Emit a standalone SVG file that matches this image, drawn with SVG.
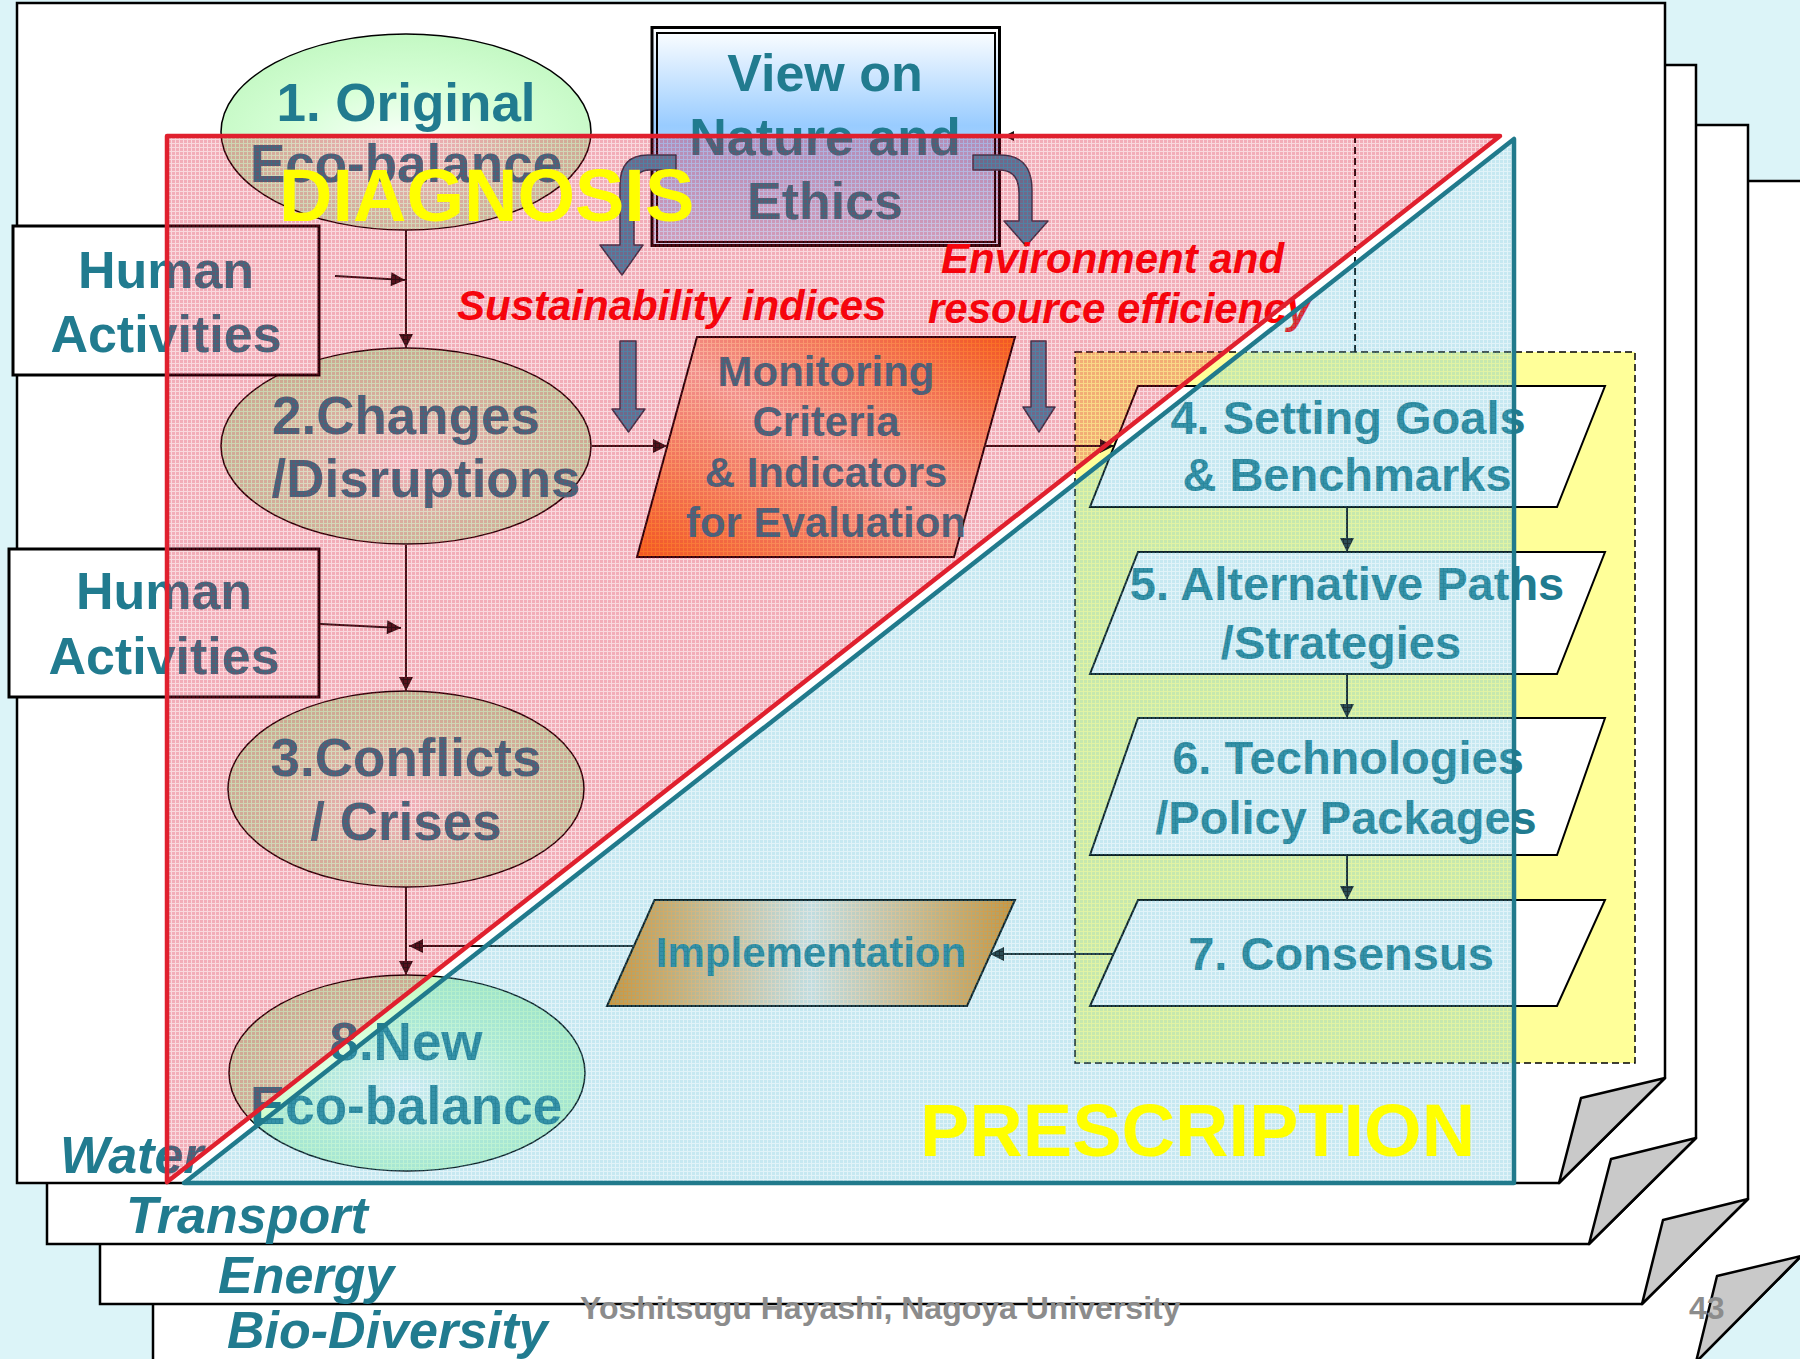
<svg xmlns="http://www.w3.org/2000/svg" width="1800" height="1359" viewBox="0 0 1800 1359">
<style>
.page{fill:#fff;stroke:#000;stroke-width:2.5}
.flap{fill:#c9c9c9;stroke:#000;stroke-width:2.5;stroke-linejoin:round}
.t{font-family:"Liberation Sans",Arial,sans-serif;font-weight:bold;fill:#217B8F;text-anchor:middle}
.big{font-size:53px}
.bx{font-size:47px}
.red{font-family:"Liberation Sans",Arial,sans-serif;font-weight:bold;font-style:italic;fill:#ff0000;font-size:42px}
.cat{font-family:"Liberation Sans",Arial,sans-serif;font-weight:bold;font-style:italic;fill:#217B8F;font-size:52px}
.foot{font-family:"Liberation Sans",Arial,sans-serif;font-weight:bold;fill:#8c8c8c;font-size:32px}
.lbl{font-family:"Liberation Sans",Arial,sans-serif;font-weight:bold;fill:#ffff00;font-size:74px}
.ln{stroke:#111;stroke-width:2;fill:none}
.blk{fill:#3896b8;stroke:#1c3c50;stroke-width:1.5;stroke-linejoin:round}
.ell{stroke:#000;stroke-width:1.5;fill:url(#gEll)}
.para{fill:#fff;stroke:#000;stroke-width:2}
.ha{fill:#fff;stroke:#000;stroke-width:3}
</style>
<defs>
<radialGradient id="gEll" cx="50%" cy="58%" r="60%">
<stop offset="0" stop-color="#ffffff"/>
<stop offset="0.55" stop-color="#d6ffd6"/>
<stop offset="1" stop-color="#c2f8c2"/>
</radialGradient>
<linearGradient id="gView" x1="0" y1="0" x2="0" y2="1">
<stop offset="0" stop-color="#ffffff"/>
<stop offset="0.45" stop-color="#99ccff"/>
<stop offset="1" stop-color="#cfe4ff"/>
</linearGradient>
<linearGradient id="gMon" x1="0" y1="1" x2="1" y2="0">
<stop offset="0" stop-color="#ff7a18"/>
<stop offset="0.5" stop-color="#ffd3bd"/>
<stop offset="1" stop-color="#ff7a18"/>
</linearGradient>
<linearGradient id="gImp" x1="0" y1="0" x2="1" y2="0">
<stop offset="0" stop-color="#e88a14"/>
<stop offset="0.5" stop-color="#f6eee6"/>
<stop offset="1" stop-color="#e88a14"/>
</linearGradient>
<pattern id="pPink" width="4" height="4" patternUnits="userSpaceOnUse">
<rect width="4" height="4" fill="#dc1432" fill-opacity="0.16"/>
<rect width="3" height="3" fill="#dc1432" fill-opacity="0.22"/>
</pattern>
<pattern id="pBlue" width="4" height="4" patternUnits="userSpaceOnUse">
<rect width="4" height="4" fill="#5abed7" fill-opacity="0.18"/>
<rect width="3" height="3" fill="#5abed7" fill-opacity="0.2"/>
</pattern>
<marker id="ah" viewBox="0 0 10 10" refX="10" refY="5" markerWidth="15" markerHeight="14" markerUnits="userSpaceOnUse" orient="auto">
<path d="M0,0 L10,5 L0,10 Z" fill="#111"/>
</marker>
<marker id="ahs" viewBox="0 0 10 10" refX="10" refY="5" markerWidth="10" markerHeight="12" markerUnits="userSpaceOnUse" orient="auto">
<path d="M0,0 L10,5 L0,10 Z" fill="#111"/>
</marker>
</defs>

<rect width="1800" height="1359" fill="#dcf4f8"/>

<g id="pages">
<path class="page" d="M153,181 H1801.5 V1256 L1696,1362 H153 Z"/>
<path class="flap" d="M1717,1276 L1801,1256 L1696,1362 Z"/>
<path class="page" d="M100,125 H1748 V1199 L1642,1304 H100 Z"/>
<path class="flap" d="M1663,1220 L1748,1199 L1642,1304 Z"/>
<path class="page" d="M47,65 H1696 V1138 L1589,1244 H47 Z"/>
<path class="flap" d="M1611,1159 L1696,1138 L1589,1244 Z"/>
<path class="page" d="M17,3 H1665 V1078 L1559,1183 H17 Z"/>
<path class="flap" d="M1581,1098 L1665,1078 L1559,1183 Z"/>
</g>

<g id="categories">
<text class="cat" x="60" y="1173">Water</text>
<text class="cat" x="126" y="1233">Transport</text>
<text class="cat" x="218" y="1293">Energy</text>
<text class="cat" x="227" y="1348">Bio-Diversity</text>
</g>

<g id="footer">
<text class="foot" x="580" y="1319">Yoshitsugu Hayashi, Nagoya University</text>
<text class="foot" x="1689" y="1319">43</text>
</g>

<g id="prescription-group">
<rect x="1075" y="352" width="560" height="711" fill="#ffff99" stroke="#000" stroke-width="1.5" stroke-dasharray="7,4"/>
</g>

<g id="n1">
<ellipse class="ell" cx="406" cy="132" rx="185" ry="98"/>
<text class="t big" x="406" y="121">1. Original</text>
<text class="t big" x="406" y="182">Eco-balance</text>
</g>
<g id="n2">
<ellipse class="ell" cx="406" cy="446" rx="185" ry="98"/>
<text class="t big" x="406" y="434">2.Changes</text>
<text class="t big" x="426" y="497">/Disruptions</text>
</g>
<g id="n3">
<ellipse class="ell" cx="406" cy="789" rx="178" ry="98"/>
<text class="t big" x="406" y="776">3.Conflicts</text>
<text class="t big" x="406" y="840">/ Crises</text>
</g>
<g id="n8">
<ellipse class="ell" cx="407" cy="1073" rx="178" ry="98"/>
<text class="t big" x="406" y="1060">8.New</text>
<text class="t big" x="406" y="1124">Eco-balance</text>
</g>
<g id="human1">
<rect class="ha" x="13" y="226" width="306" height="149"/>
<text class="t" style="font-size:52px" x="166" y="288">Human</text>
<text class="t" style="font-size:52px" x="166" y="352">Activities</text>
</g>
<g id="human2">
<rect class="ha" x="9" y="549" width="310" height="148"/>
<text class="t" style="font-size:52px" x="164" y="609">Human</text>
<text class="t" style="font-size:52px" x="164" y="674">Activities</text>
</g>
<g id="view">
<rect x="652" y="27.5" width="347.5" height="218" fill="url(#gView)" stroke="#000" stroke-width="3"/>
<rect x="657" y="33" width="338" height="209" fill="none" stroke="#000" stroke-width="2"/>
<text class="t" style="font-size:52px" x="825" y="91">View on</text>
<text class="t" style="font-size:52px" x="825" y="155">Nature and</text>
<text class="t" style="font-size:52px" x="825" y="219">Ethics</text>
</g>
<g id="monitoring">
<path d="M697,337 H1015 L954,557 H637 Z" fill="url(#gMon)" stroke="#000" stroke-width="2"/>
<text class="t" style="font-size:42px" x="826" y="386">Monitoring</text>
<text class="t" style="font-size:42px" x="826" y="436">Criteria</text>
<text class="t" style="font-size:42px" x="826" y="487">&amp; Indicators</text>
<text class="t" style="font-size:42px" x="826" y="537">for Evaluation</text>
</g>
<g id="n4">
<path class="para" d="M1138,386 H1605 L1557,507 H1090 Z"/>
<text class="t bx" x="1348" y="434">4. Setting Goals</text>
<text class="t bx" x="1347" y="491">&amp; Benchmarks</text>
</g>
<g id="n5">
<path class="para" d="M1138,552 H1605 L1557,674 H1090 Z"/>
<text class="t bx" x="1347" y="600">5. Alternative Paths</text>
<text class="t bx" x="1341" y="659">/Strategies</text>
</g>
<g id="n6">
<path class="para" d="M1138,718 H1605 L1557,855 H1090 Z"/>
<text class="t bx" x="1348" y="774">6. Technologies</text>
<text class="t bx" x="1346" y="834">/Policy Packages</text>
</g>
<g id="n7">
<path class="para" d="M1138,900 H1605 L1557,1006 H1090 Z"/>
<text class="t bx" x="1341" y="970">7. Consensus</text>
</g>
<g id="implementation">
<path d="M654.5,900 H1015 L967,1006 H607 Z" fill="url(#gImp)" stroke="#000" stroke-width="2"/>
<text class="t" style="font-size:42px" x="811" y="967">Implementation</text>
</g>

<g id="connectors">
<line class="ln" x1="406" y1="230" x2="406" y2="348" marker-end="url(#ah)"/>
<line class="ln" x1="406" y1="545" x2="406" y2="691" marker-end="url(#ah)"/>
<line class="ln" x1="406" y1="887" x2="406" y2="975" marker-end="url(#ah)"/>
<line class="ln" x1="335" y1="276" x2="405" y2="280" marker-end="url(#ah)"/>
<line class="ln" x1="320" y1="624" x2="401" y2="628" marker-end="url(#ah)"/>
<line class="ln" x1="592" y1="446" x2="667" y2="446" marker-end="url(#ah)"/>
<line class="ln" x1="984" y1="446" x2="1114" y2="446" marker-end="url(#ah)"/>
<line class="ln" x1="1347" y1="507" x2="1347" y2="552" marker-end="url(#ah)"/>
<line class="ln" x1="1347" y1="674" x2="1347" y2="718" marker-end="url(#ah)"/>
<line class="ln" x1="1347" y1="855" x2="1347" y2="900" marker-end="url(#ah)"/>
<line class="ln" x1="1113" y1="954" x2="990" y2="954" marker-end="url(#ah)"/>
<line class="ln" x1="634" y1="946" x2="409" y2="946" marker-end="url(#ah)"/>
<path d="M1355,352 V136 H1004" fill="none" stroke="#111" stroke-width="2" stroke-dasharray="7,4" marker-end="url(#ahs)"/>
<path class="blk" d="M676,155 L648,155 Q620,155 620,185 L620,245 L600,245 L622,275 L643,245 L634,245 L634,188 Q634,170 650,170 L676,170 Z"/>
<path class="blk" d="M973,155 L1000,155 Q1032,155 1032,190 L1032,221 L1048,221 L1026,246 L1004,221 L1019,221 L1019,193 Q1019,170 999,170 L973,170 Z"/>
<path class="blk" d="M620,341 H636 V409 H645 L628.5,432 L612,409 H620 Z"/>
<path class="blk" d="M1031,341 H1046 V407 H1055 L1039,432 L1023,407 H1031 Z"/>
</g>

<g id="labels">
<text class="red" x="457" y="320">Sustainability indices</text>
<text class="red" x="941" y="273">Environment and</text>
<text class="red" x="928" y="323">resource efficiency</text>
</g>

<g id="diagnosis">
<path d="M167,136 L1500,136 L167,1182 Z" fill="url(#pPink)" stroke="#e0202e" stroke-width="4.5" stroke-linejoin="round"/>
</g>
<g id="prescription">
<path d="M184,1183 L1514,139 L1514,1183 Z" fill="url(#pBlue)" stroke="#217A8C" stroke-width="4.5" stroke-linejoin="round"/>
</g>
<g id="region-labels">
<text class="lbl" x="279" y="221">DIAGNOSIS</text>
<text class="lbl" x="920" y="1156">PRESCRIPTION</text>
</g>
</svg>
